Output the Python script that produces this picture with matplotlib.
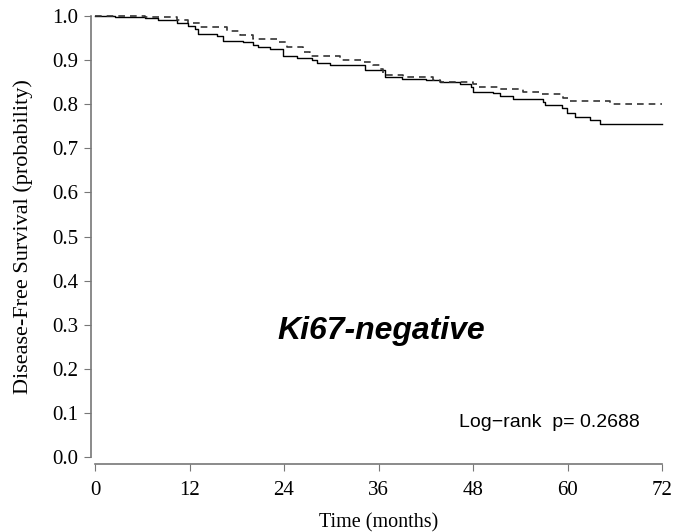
import numpy as np
import matplotlib.pyplot as plt

# Kaplan-Meier steps (months, survival probability)
solid_t = [0, 2.5, 6.3, 8.0, 10.4, 11.8, 12.7, 13.1, 15.5, 16.3, 18.8, 20.0, 20.7,
           22.2, 23.9, 25.6, 27.5, 28.2, 29.8, 34.3, 36.8, 39.0, 42.0, 43.8, 46.3,
           47.8, 48.0, 50.5, 51.4, 53.1, 56.9, 57.1, 59.3, 59.9, 61.0, 62.9, 64.1, 72]
solid_s = [1.0, 0.998, 0.995, 0.99, 0.985, 0.977, 0.97, 0.96, 0.955, 0.943, 0.94, 0.935, 0.93,
           0.925, 0.91, 0.904, 0.9, 0.894, 0.889, 0.877, 0.862, 0.858, 0.855, 0.85, 0.845,
           0.838, 0.828, 0.825, 0.818, 0.812, 0.806, 0.798, 0.791, 0.781, 0.77, 0.764, 0.755, 0.755]

dash_t = [0, 6.3, 10.4, 11.8, 13.3, 16.8, 18.4, 20.0, 23.1, 24.4, 26.4, 27.3, 31.1,
          34.0, 35.3, 36.2, 36.6, 39.1, 42.9, 43.8, 48.0, 48.6, 51.4, 54.3, 56.5,
          59.4, 60.1, 65.4, 72]
dash_s = [1.0, 0.997, 0.99, 0.984, 0.976, 0.965, 0.958, 0.947, 0.94, 0.93, 0.918, 0.909, 0.9,
          0.895, 0.889, 0.88, 0.866, 0.862, 0.855, 0.85, 0.845, 0.84, 0.834, 0.827, 0.822,
          0.815, 0.807, 0.80, 0.80]

x_ticks = [0, 12, 24, 36, 48, 60, 72]
y_ticks = np.round(np.arange(0, 1.01, 0.1), 1)

fig = plt.figure(figsize=(6.75, 5.32), dpi=100)
ax = fig.add_axes([95 / 675, 75 / 532, 567 / 675, 441 / 532])

ax.step(solid_t, solid_s, where='post', color='black', lw=1.0, clip_on=False)
ax.step(dash_t, dash_s, where='post', color='#333333', lw=1.2, ls=(0, (4, 3)), clip_on=False)

ax.set_xlim(0, 72)
ax.set_ylim(0, 1)

for side in ['top', 'right']:
    ax.spines[side].set_visible(False)
ax.spines['left'].set_position(('outward', 3))
ax.spines['bottom'].set_position(('outward', 5))
for side in ['left', 'bottom']:
    ax.spines[side].set_color('#777777')
    ax.spines[side].set_linewidth(1.2)

serif = 'Liberation Serif'
ax.set_xticks(x_ticks)
ax.set_xticklabels([str(v) for v in x_ticks], fontfamily=serif, fontsize=15)
ax.set_yticks(y_ticks)
ax.set_yticklabels(['%.1f' % v for v in y_ticks], fontfamily=serif, fontsize=15)
ax.tick_params(direction='out', length=5, color='#777777')
ax.tick_params(axis='x', pad=7)
ax.tick_params(axis='y', pad=4)

ax.set_xlabel('Time (months)', fontfamily=serif, fontsize=14.5, labelpad=10)
ax.set_ylabel('Disease-Free Survival (probability)', fontfamily=serif, fontsize=16, labelpad=14)

ax.text(36.3, 0.286, 'Ki67-negative', fontfamily='Liberation Sans', fontsize=23,
        fontweight='bold', fontstyle='italic', ha='center', va='center')
ax.text(57.7, 0.079, 'Log\u2212rank  p= 0.2688', fontfamily='Liberation Sans', fontsize=14,
        ha='center', va='center')

fig.savefig('out.png', dpi=100)
